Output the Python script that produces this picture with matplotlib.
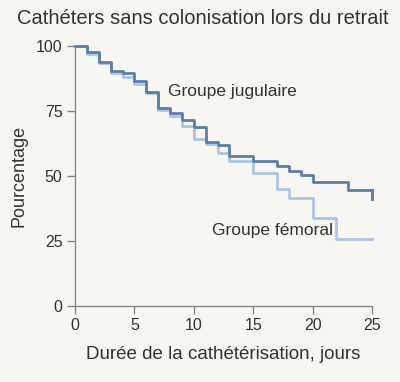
import matplotlib.pyplot as plt

plt.rcParams["font.family"] = ["Liberation Sans", "DejaVu Sans"]

# step values, one per day interval starting at each day listed
jug_days = [0, 1, 2, 3, 4, 5, 6, 7, 8, 9, 10, 11, 12, 13, 15, 17, 18, 19, 20, 23, 25]
jug_pct = [100, 97.8, 93.9, 90.5, 89.5, 86.3, 82.4, 76, 74, 71.5, 68.7, 63, 62, 57.5, 55.8, 54, 51.7, 50.2, 47.6, 44.5, 41]

fem_days = [0, 1, 2, 3, 4, 5, 6, 7, 8, 9, 10, 11, 12, 13, 15, 17, 18, 20, 22, 25]
fem_pct = [100, 97, 93.5, 89.5, 88, 85.5, 81.8, 75.2, 73, 69.1, 64.2, 62.1, 58.9, 55.7, 51, 44.8, 41.4, 34, 25.7, 25.7]

x_ticks = [0, 5, 10, 15, 20, 25]
y_ticks = [0, 25, 50, 75, 100]

bg = "#f7f6f2"
dark = "#5b7fa6"
light = "#a9c6e9"
grey = "#888888"
txt = "#333333"

fig = plt.figure(figsize=(4, 3.82), dpi=100, facecolor=bg)
ax = fig.add_axes([0.1875, 0.199, 0.7425, 0.681], facecolor=bg)

ax.step(fem_days, fem_pct, where="post", color=light, lw=2.0, clip_on=False)
ax.step(jug_days, jug_pct, where="post", color=dark, lw=2.0, clip_on=False)
# final drop of the jugular curve at day 25
ax.plot([jug_days[-1], jug_days[-1]], [jug_pct[-2], jug_pct[-1]], color=dark, lw=2.0, clip_on=False)

ax.set_xlim(0, 25)
ax.set_ylim(0, 100)
ax.set_xticks(x_ticks)
ax.set_yticks(y_ticks)
for s in ["top", "right"]:
    ax.spines[s].set_visible(False)
for s in ["left", "bottom"]:
    ax.spines[s].set_color(grey)
    ax.spines[s].set_linewidth(1.0)
ax.tick_params(colors=grey, labelcolor=txt, labelsize=11.5, length=6, width=1.0, pad=3)

ax.text(7.8, 82.3, "Groupe jugulaire", fontsize=12.5, color=txt, va="center", ha="left")
ax.text(11.5, 29, "Groupe fémoral", fontsize=12.5, color=txt, va="center", ha="left")

ax.set_xlabel("Durée de la cathétérisation, jours", fontsize=13.5, color=txt, labelpad=9)
ax.set_ylabel("Pourcentage", fontsize=13, color=txt, labelpad=6)

fig.text(0.0425, 0.952, "Cathéters sans colonisation lors du retrait", fontsize=14.5, color=txt,
         ha="left", va="center")

fig.savefig("out.png", dpi=100, facecolor=bg)
